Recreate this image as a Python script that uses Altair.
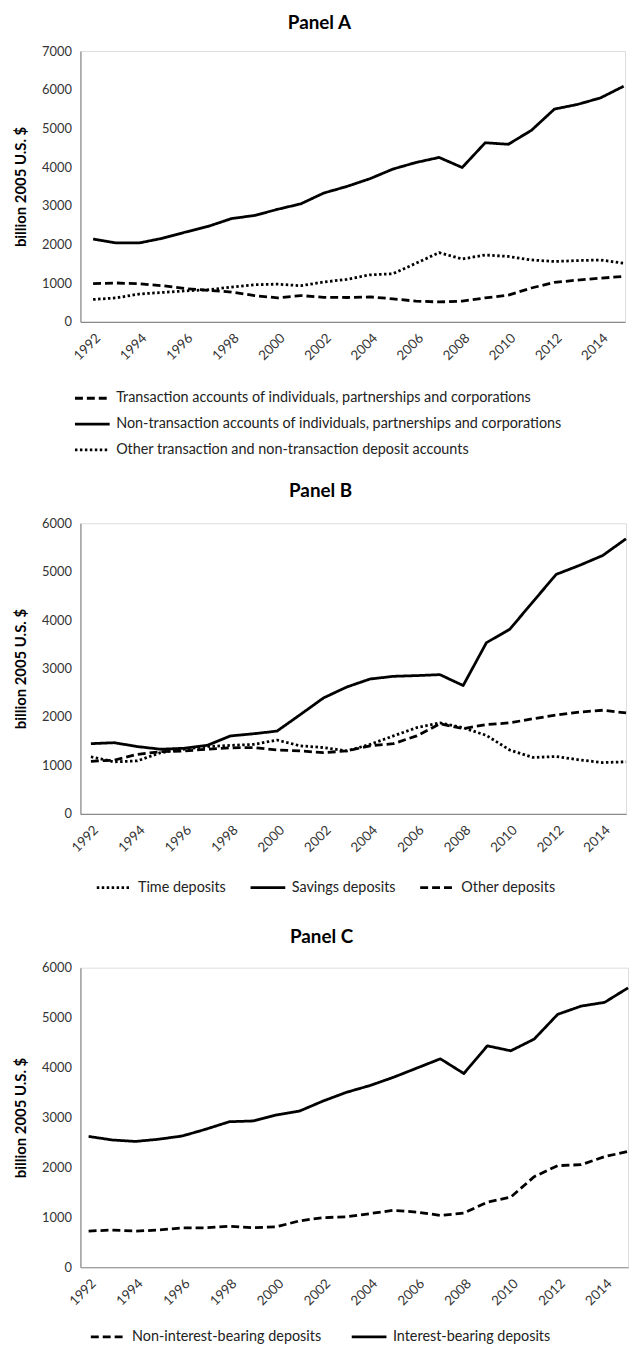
import altair as alt
import pandas as pd

years = list(range(1992, 2016))
even_years = list(range(1992, 2015, 2))

# Panel A
a_names = [
    "Transaction accounts of individuals, partnerships and corporations",
    "Non-transaction accounts of individuals, partnerships and corporations",
    "Other transaction and non-transaction deposit accounts",
]
a_transaction = [990, 1005, 985, 935, 860, 815, 770, 680, 620, 680, 635, 630,
                 645, 595, 535, 515, 535, 620, 690, 875, 1020, 1080, 1130, 1175]
a_nontransaction = [2140, 2040, 2040, 2160, 2320, 2470, 2670, 2750, 2910, 3050, 3330, 3500,
                    3700, 3950, 4120, 4250, 3990, 4630, 4590, 4950, 5500, 5620, 5790, 6090]
a_other = [580, 620, 720, 760, 800, 830, 900, 960, 975, 935, 1030, 1100,
           1215, 1245, 1515, 1790, 1625, 1730, 1690, 1600, 1560, 1585, 1600, 1515]

# Panel B
b_names = ["Time deposits", "Savings deposits", "Other deposits"]
b_time = [1180, 1075, 1095, 1265, 1335, 1390, 1415, 1435, 1525, 1405, 1370, 1300,
          1435, 1610, 1780, 1880, 1780, 1620, 1320, 1165, 1185, 1115, 1060, 1075]
b_savings = [1450, 1470, 1390, 1335, 1355, 1415, 1610, 1655, 1710, 2050, 2395, 2620,
             2785, 2840, 2855, 2875, 2650, 3535, 3810, 4380, 4945, 5130, 5335, 5680]
b_other = [1085, 1110, 1230, 1285, 1300, 1335, 1365, 1370, 1320, 1300, 1265, 1300,
           1405, 1450, 1610, 1860, 1760, 1845, 1880, 1965, 2040, 2100, 2140, 2085]

# Panel C
c_names = ["Non-interest-bearing deposits", "Interest-bearing deposits"]
c_noninterest = [725, 745, 725, 745, 790, 790, 820, 790, 810, 930, 995, 1010,
                 1075, 1140, 1105, 1040, 1085, 1305, 1405, 1815, 2035, 2055, 2215, 2320]
c_interest = [2620, 2550, 2520, 2565, 2630, 2765, 2915, 2930, 3050, 3130, 3330, 3505,
              3640, 3805, 3990, 4175, 3880, 4435, 4335, 4570, 5065, 5230, 5305, 5595]

DASH = [8, 4]
SOLID = [1, 0]
DOT = [2.5, 2.5]

FONT = "Lato"


def long_df(names, series):
    rows = []
    for n, s in zip(names, series):
        for y, v in zip(years, s):
            rows.append({"year": y, "value": v, "series": n})
    return pd.DataFrame(rows)


def panel(title, df, names, dashes, ymax, width, height, xdom, legend, toff):
    return alt.Chart(df).mark_line(
        color="black", strokeWidth=2.8, strokeCap="butt", strokeJoin="round"
    ).encode(
        x=alt.X("year:Q",
                scale=alt.Scale(domain=xdom, nice=False, zero=False),
                axis=alt.Axis(values=even_years, format="d", labelAngle=-45,
                              title=None, ticks=False, grid=False,
                              domainColor="#8a8a8a", domainWidth=1.2,
                              labelFont=FONT, labelFontSize=13.5, labelColor="#333333",
                              labelPadding=9)),
        y=alt.Y("value:Q",
                scale=alt.Scale(domain=[0, ymax], nice=False),
                axis=alt.Axis(values=list(range(0, ymax + 1, 1000)), format="d",
                              title="billion  2005 U.S.  $", titleFont=FONT,
                              titleFontSize=15, titleFontWeight="bold", titleColor="black",
                              titlePadding=13, ticks=False, grid=False,
                              domainColor="#8a8a8a", domainWidth=1.2,
                              labelFont=FONT, labelFontSize=13, labelColor="#333333",
                              labelPadding=9)),
        strokeDash=alt.StrokeDash("series:N",
                                  scale=alt.Scale(domain=names, range=dashes),
                                  legend=legend),
        detail="series:N",
    ).properties(
        width=width, height=height,
        title=alt.TitleParams(title, font=FONT, fontSize=19, fontWeight="bold",
                              color="black", anchor="middle", frame="bounds", offset=toff),
    )


legend_common = dict(
    title=None, symbolType="stroke", symbolSize=1225, symbolStrokeWidth=2.8,
    symbolStrokeColor="black", labelFont=FONT, labelFontSize=14.5,
    labelColor="#222222", labelLimit=600, labelOffset=5, orient="none",
)

legA = alt.Legend(direction="vertical", legendX=-7, legendY=331, rowPadding=-1,
                  **legend_common)
legB = alt.Legend(direction="horizontal", legendX=7, legendY=340, columnPadding=18,
                  padding=8, **legend_common)
legC = alt.Legend(direction="horizontal", legendX=9, legendY=353, columnPadding=24,
                  **legend_common)

chartA = panel("Panel A", long_df(a_names, [a_transaction, a_nontransaction, a_other]),
               a_names, [DASH, SOLID, DOT], 7000, 549, 273, [1991.45, 2015.06], legA, 12)
chartB = panel("Panel B", long_df(b_names, [b_time, b_savings, b_other]),
               b_names, [DOT, SOLID, DASH], 6000, 550, 293, [1991.55, 2015.0], legB, 16)
chartC = panel("Panel C", long_df(c_names, [c_noninterest, c_interest]),
               c_names, [DASH, SOLID], 6000, 552, 302, [1991.65, 2015.0], legC, 15)

chart = alt.vconcat(chartA, chartB, chartC, spacing=24).resolve_scale(
    strokeDash="independent", x="independent", y="independent"
).properties(
    padding={"left": 5, "top": 0, "right": 0, "bottom": 0}
).configure_view(stroke=None).configure(background="white")

chart.save("out.html", embed_options={"renderer": "svg", "actions": False})
